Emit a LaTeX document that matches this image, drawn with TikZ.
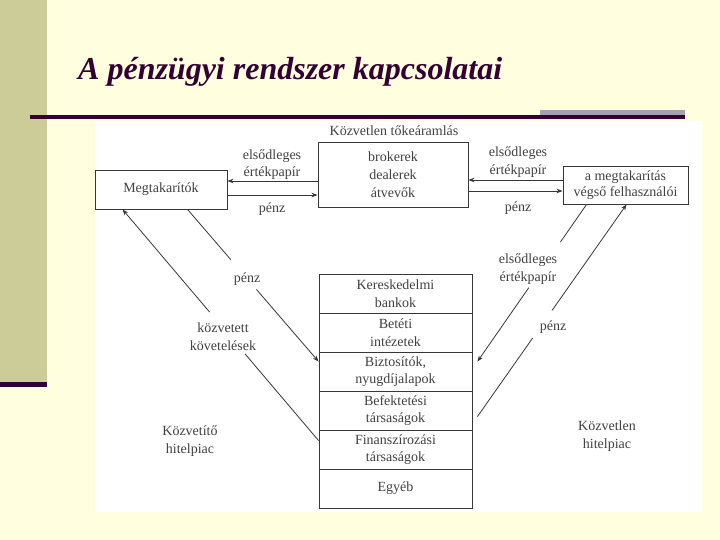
\documentclass[tikz,border=0pt]{standalone}
\usepackage{fontspec}
\setmainfont{Liberation Serif}
\usetikzlibrary{arrows.meta,calc}
\definecolor{bgc}{RGB}{255,255,224}
\definecolor{barc}{RGB}{204,204,153}
\definecolor{darkc}{RGB}{51,0,51}
\definecolor{greyc}{RGB}{168,160,176}
\definecolor{linec}{RGB}{55,55,55}
\definecolor{textc}{RGB}{65,65,65}
\newcommand\diagfont{\fontsize{14}{17.5}\selectfont}
\begin{document}
\begin{tikzpicture}[x=1pt,y=-1pt,
  box/.style={draw=linec, line width=0.9pt, fill=white, inner sep=0pt, align=center, font=\diagfont, text=textc},
  rowbox/.style={box, minimum width=153pt, minimum height=39pt},
  lbl/.style={inner sep=1pt, align=center, font=\diagfont, text=textc},
  arr/.style={draw=linec, line width=0.8pt, -{Stealth[length=6pt,width=4.5pt]}},
  ln/.style={draw=linec, line width=0.8pt}]
% slide background
\fill[bgc] (0,0) rectangle (720,540);
\useasboundingbox (0,0) rectangle (720,540);
\fill[barc] (0,0) rectangle (47,382);
\fill[darkc] (0,382) rectangle (47,387);
\node[anchor=base west, inner sep=0pt, text=darkc, font=\fontsize{32}{36}\selectfont\bfseries\itshape] (title) at (78,80) {A pénzügyi rendszer kapcsolatai};
\fill[darkc] (30,115.5) rectangle (685,119);
\fill[greyc] (540,110.5) rectangle (685,115.5);
% diagram panel
\fill[white] (95,121) rectangle (702,512);
% boxes
\node[lbl] (kt) at (394,131) {Közvetlen tőkeáramlás};
\node[box, minimum width=150pt, minimum height=65pt, font=\fontsize{14}{18}\selectfont] (brok) at (393,174.5) {brokerek\\dealerek\\átvevők};
\node[box, minimum width=132pt, minimum height=39pt] (megt) at (161,189.5) {Megtakarítók};
\node[box, minimum width=125pt, minimum height=38pt, font=\fontsize{14}{16}\selectfont] (vegs) at (625.5,185) {a megtakarítás\\végső felhasználói};
\node[rowbox] (r1) at (395.5,293.5) {Kereskedelmi\\bankok};
\node[rowbox] (r2) at (395.5,332.5) {Betéti\\intézetek};
\node[rowbox] (r3) at (395.5,371.5) {Biztosítók,\\nyugdíjalapok};
\node[rowbox] (r4) at (395.5,410.5) {Befektetési\\társaságok};
\node[rowbox] (r5) at (395.5,449.5) {Finanszírozási\\társaságok};
\node[rowbox] (r6) at (395.5,488.5) {Egyéb};
% horizontal flows
\draw[arr] ([yshift=-6.5pt]brok.west) -- ([yshift=-6.5pt]brok.west -| megt.east);
\draw[arr] ([yshift=-20.5pt]brok.west -| megt.east) -- ([yshift=-20.5pt]brok.west);
\draw[arr] ([yshift=-5.5pt]brok.east -| vegs.west) -- ([yshift=-5.5pt]brok.east);
\draw[arr] ([yshift=-16.5pt]brok.east) -- ([yshift=-16.5pt]brok.east -| vegs.west);
\node[lbl] (l1) at (272,164.5) {elsődleges\\értékpapír};
\node[lbl] (l2) at (272,209) {pénz};
\node[lbl] (l3) at (518,162) {elsődleges\\értékpapír};
\node[lbl] (l4) at (518,208) {pénz};
% diagonal flows (left)
\coordinate (kA) at ([yshift=-11pt]r5.north west);
\coordinate (kB) at ([xshift=28pt]megt.south west);
\draw[ln] (kA) -- ($(kA)!0.375!(kB)$);
\draw[arr] ($(kA)!0.556!(kB)$) -- (kB);
\coordinate (pA) at ([xshift=93pt]megt.south west);
\coordinate (pB) at ([yshift=-10pt]r3.north west);
\draw[ln] (pA) -- ($(pA)!0.33!(pB)$);
\draw[arr] ($(pA)!0.526!(pB)$) -- (pB);
\node[lbl] (l5) at (247,279) {pénz};
\node[lbl] (l6) at (223,336.5) {közvetett\\követelések};
% diagonal flows (right)
\coordinate (eA) at ([xshift=24pt]vegs.south west);
\coordinate (eB) at ([xshift=5pt,yshift=-10pt]r3.north east);
\draw[ln] (eA) -- ($(eA)!0.24!(eB)$);
\draw[arr] ($(eA)!0.53!(eB)$) -- (eB);
\coordinate (qA) at ([xshift=5pt,yshift=-26pt]r4.north east);
\coordinate (qB) at ([xshift=64pt]vegs.south west);
\draw[ln] (qA) -- ($(qA)!0.37!(qB)$);
\draw[arr] ($(qA)!0.50!(qB)$) -- (qB);
\node[lbl] (l7) at (528,269) {elsődleges\\értékpapír};
\node[lbl] (l8) at (553,327) {pénz};
% market labels
\node[lbl] (l9) at (190,441) {Közvetítő\\hitelpiac};
\node[lbl] (l10) at (607,436) {Közvetlen\\hitelpiac};
\end{tikzpicture}
\end{document}
